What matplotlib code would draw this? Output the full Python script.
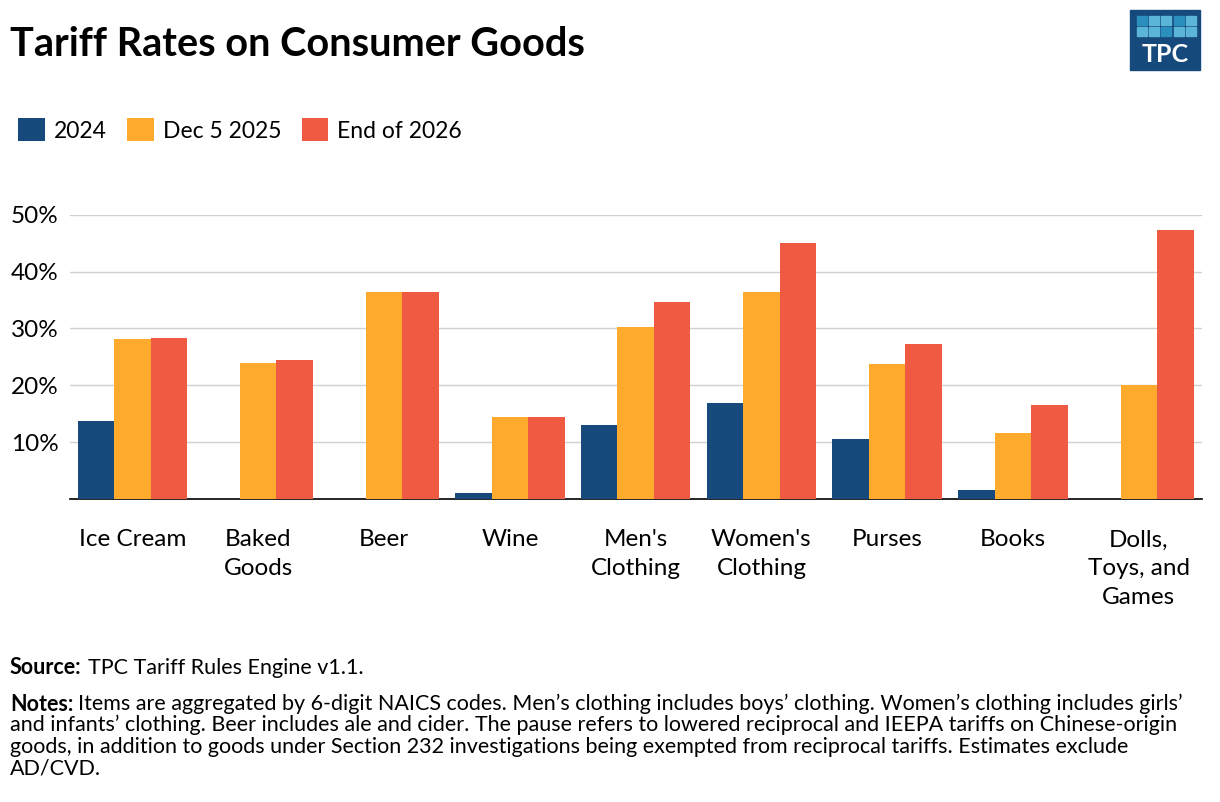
import numpy as np
import matplotlib.pyplot as plt
import matplotlib.patches as pat

plt.rcParams['font.family'] = ['Lato', 'DejaVu Sans']

categories = ["Ice Cream", "Baked\nGoods", "Beer", "Wine", "Men's\nClothing",
              "Women's\nClothing", "Purses", "Books", "Dolls,\nToys, and\nGames"]
rate_2024 = [13.7, 0, 0, 1.0, 13.0, 16.8, 10.5, 1.5, 0]
rate_dec2025 = [28.1, 24.0, 36.5, 14.4, 30.3, 36.5, 23.7, 11.6, 20.1]
rate_end2026 = [28.3, 24.4, 36.5, 14.4, 34.6, 45.0, 27.3, 16.5, 47.3]
series = [("2024", rate_2024, '#174a7c'),
          ("Dec 5 2025", rate_dec2025, '#fdaa2d'),
          ("End of 2026", rate_end2026, '#f15a42')]

fig = plt.figure(figsize=(12.2, 8.02), dpi=100)
ax = fig.add_axes([0.057, 0.378, 0.928, 0.354])

x = np.arange(len(categories))
w = 0.29
for k, (name, vals, c) in enumerate(series):
    ax.bar(x + (k - 1) * w, vals, w, color=c, label=name, zorder=3)

ax.set_xlim(-0.5, len(categories) - 0.5)
ax.set_ylim(0, 50)
ax.set_yticks([10, 20, 30, 40, 50])
ax.set_yticklabels(['10%', '20%', '30%', '40%', '50%'])
ax.yaxis.grid(True, color='#d0d0d0', lw=1, zorder=0)
for s in ['top', 'right', 'left']:
    ax.spines[s].set_visible(False)
ax.spines['bottom'].set_color('black')
ax.spines['bottom'].set_linewidth(1.2)
ax.set_xticks(x)
ax.set_xticklabels(categories, fontsize=17.5, va='top', linespacing=1.45)
ax.tick_params(axis='x', length=0, pad=22)
ax.tick_params(axis='y', length=0, labelsize=17.5, pad=8)

fig.text(0.008, 0.945, "Tariff Rates on Consumer Goods", fontsize=28.5, fontweight='bold', va='center')

leg = fig.legend(loc='upper left', bbox_to_anchor=(-0.002, 0.878), ncol=3, frameon=False,
                 fontsize=16.5, handlelength=1.15, handleheight=1.15, handletextpad=0.4,
                 columnspacing=0.9)

# logo
fig.patches.append(pat.Rectangle((1130 / 1220, 1 - 70 / 802), 70 / 1220, 60 / 802,
                                 transform=fig.transFigure, color='#174a7c'))
for r in range(2):
    for cc in range(5):
        col = '#2a8fbd' if (r + cc) % 3 == 0 else '#5bb5d9'
        fig.patches.append(pat.Rectangle(((1137 + cc * 12.2) / 1220, 1 - (25 + r * 11) / 802),
                                         10 / 1220, 9 / 802, transform=fig.transFigure, color=col))
fig.text(1165 / 1220, 1 - 55 / 802, "TPC", fontsize=18, fontweight='bold', color='white',
         ha='center', va='center')

fs = 15.5
renderer = fig.canvas.get_renderer()
src = fig.text(10 / 1220, 1 - 668 / 802, "Source:", fontsize=fs, fontweight='bold', va='center')
x1 = src.get_window_extent(renderer).x1 + 6
fig.text(x1 / 1220, 1 - 668 / 802, "TPC Tariff Rules Engine v1.1.", fontsize=fs, va='center')
nt = fig.text(10 / 1220, 1 - 694 / 802, "Notes:", fontsize=fs, fontweight='bold', va='top')
x2 = nt.get_window_extent(renderer).x1 + 5
fig.text(x2 / 1220, 1 - 694 / 802,
         "Items are aggregated by 6-digit NAICS codes. Men\u2019s clothing includes boys\u2019 clothing. Women\u2019s clothing includes girls\u2019",
         fontsize=fs, va='top')
fig.text(10 / 1220, 1 - 715 / 802,
         "and infants\u2019 clothing. Beer includes ale and cider. The pause refers to lowered reciprocal and IEEPA tariffs on Chinese-origin\n"
         "goods, in addition to goods under Section 232 investigations being exempted from reciprocal tariffs. Estimates exclude\n"
         "AD/CVD.", fontsize=fs, va='top', linespacing=1.1)

plt.savefig('out.png', dpi=100)
